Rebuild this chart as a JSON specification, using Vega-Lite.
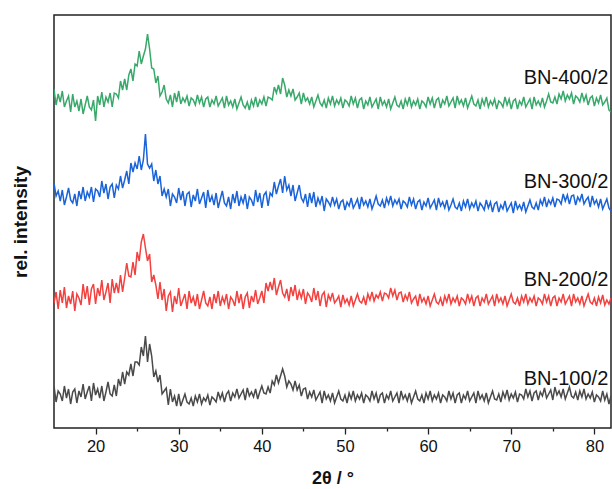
{
"$schema": "https://vega.github.io/schema/vega-lite/v6.json",
"width": 557, "height": 413,
"autosize": "none",
"padding": {"left": 54, "top": 15, "right": 1, "bottom": 61},
"background": "white",
"config": {"view": {"stroke": "#222", "strokeWidth": 1.5}, "font": "Liberation Sans"},
"layer": [
{"data": {"values": [
{"x":15,"g":335,"b":241,"r":121,"k":38},
{"x":15.25,"g":319,"b":228,"r":132,"k":22},
{"x":15.5,"g":330,"b":233,"r":115,"k":33},
{"x":15.75,"g":322,"b":223,"r":134,"k":30},
{"x":16,"g":333,"b":234,"r":121,"k":23},
{"x":16.25,"g":317,"b":219,"r":137,"k":38},
{"x":16.5,"g":323,"b":227,"r":116,"k":26},
{"x":16.75,"g":328,"b":236,"r":128,"k":35},
{"x":17,"g":312,"b":224,"r":120,"k":20},
{"x":17.25,"g":330,"b":221,"r":133,"k":32},
{"x":17.5,"g":317,"b":230,"r":113,"k":35},
{"x":17.75,"g":323,"b":218,"r":130,"k":21},
{"x":18,"g":313,"b":233,"r":126,"k":33},
{"x":18.25,"g":325,"b":225,"r":119,"k":27},
{"x":18.5,"g":310,"b":237,"r":140,"k":40},
{"x":18.75,"g":319,"b":223,"r":125,"k":25},
{"x":19,"g":328,"b":232,"r":138,"k":32},
{"x":19.25,"g":317,"b":227,"r":119,"k":38},
{"x":19.5,"g":314,"b":237,"r":135,"k":23},
{"x":19.75,"g":324,"b":222,"r":140,"k":41},
{"x":20,"g":303,"b":235,"r":120,"k":29},
{"x":20.25,"g":328,"b":233,"r":136,"k":35},
{"x":20.5,"g":319,"b":227,"r":128,"k":26},
{"x":20.75,"g":332,"b":243,"r":144,"k":38},
{"x":21,"g":317,"b":231,"r":124,"k":23},
{"x":21.25,"g":327,"b":240,"r":132,"k":32},
{"x":21.5,"g":322,"b":225,"r":141,"k":42},
{"x":21.75,"g":331,"b":237,"r":121,"k":30},
{"x":22,"g":317,"b":240,"r":145,"k":28},
{"x":22.25,"g":331,"b":226,"r":131,"k":39},
{"x":22.5,"g":330,"b":239,"r":141,"k":28},
{"x":22.75,"g":326,"b":235,"r":131,"k":45},
{"x":23,"g":343,"b":248,"r":149,"k":38},
{"x":23.25,"g":334,"b":236,"r":132,"k":52},
{"x":23.5,"g":345,"b":244,"r":146,"k":40},
{"x":23.75,"g":334,"b":253,"r":161,"k":52},
{"x":24,"g":349,"b":240,"r":148,"k":49},
{"x":24.25,"g":355,"b":261,"r":147,"k":60},
{"x":24.5,"g":343,"b":252,"r":162,"k":48},
{"x":24.75,"g":360,"b":261,"r":149,"k":62},
{"x":25,"g":358,"b":255,"r":172,"k":62},
{"x":25.25,"g":373,"b":268,"r":163,"k":59},
{"x":25.5,"g":360,"b":254,"r":182,"k":77},
{"x":25.75,"g":368,"b":264,"r":190,"k":68},
{"x":26,"g":375,"b":290,"r":176,"k":88},
{"x":26.25,"g":390,"b":260,"r":163,"k":62},
{"x":26.5,"g":375,"b":256,"r":170,"k":80},
{"x":26.75,"g":356,"b":260,"r":142,"k":68},
{"x":27,"g":355,"b":243,"r":149,"k":47},
{"x":27.25,"g":341,"b":254,"r":139,"k":53},
{"x":27.5,"g":348,"b":240,"r":125,"k":42},
{"x":27.75,"g":328,"b":248,"r":142,"k":49},
{"x":28,"g":332,"b":228,"r":124,"k":30},
{"x":28.25,"g":339,"b":235,"r":135,"k":33},
{"x":28.5,"g":325,"b":227,"r":113,"k":36},
{"x":28.75,"g":321,"b":235,"r":128,"k":19},
{"x":29,"g":329,"b":218,"r":132,"k":35},
{"x":29.25,"g":317,"b":230,"r":112,"k":22},
{"x":29.5,"g":331,"b":227,"r":128,"k":28},
{"x":29.75,"g":322,"b":221,"r":120,"k":18},
{"x":30,"g":333,"b":236,"r":136,"k":30},
{"x":30.25,"g":320,"b":224,"r":118,"k":18},
{"x":30.5,"g":326,"b":233,"r":124,"k":24},
{"x":30.75,"g":322,"b":218,"r":130,"k":30},
{"x":31,"g":328,"b":230,"r":115,"k":22},
{"x":31.25,"g":318,"b":232,"r":133,"k":20},
{"x":31.5,"g":326,"b":217,"r":121,"k":26},
{"x":31.75,"g":324,"b":229,"r":127,"k":18},
{"x":32,"g":319,"b":223,"r":118,"k":28},
{"x":32.25,"g":329,"b":235,"r":130,"k":22},
{"x":32.5,"g":321,"b":220,"r":115,"k":30},
{"x":32.75,"g":327,"b":226,"r":124,"k":20},
{"x":33,"g":317,"b":232,"r":133,"k":26},
{"x":33.25,"g":325,"b":216,"r":121,"k":23},
{"x":33.5,"g":327,"b":234,"r":118,"k":29},
{"x":33.75,"g":317,"b":222,"r":127,"k":19},
{"x":34,"g":324,"b":228,"r":115,"k":27},
{"x":34.25,"g":320,"b":219,"r":130,"k":25},
{"x":34.5,"g":328,"b":231,"r":121,"k":22},
{"x":34.75,"g":318,"b":216,"r":133,"k":32},
{"x":35,"g":322,"b":225,"r":118,"k":25},
{"x":35.25,"g":326,"b":233,"r":127,"k":31},
{"x":35.5,"g":316,"b":221,"r":121,"k":22},
{"x":35.75,"g":328,"b":218,"r":130,"k":30},
{"x":36,"g":319,"b":227,"r":115,"k":33},
{"x":36.25,"g":323,"b":215,"r":127,"k":23},
{"x":36.5,"g":317,"b":230,"r":124,"k":31},
{"x":36.75,"g":325,"b":221,"r":118,"k":27},
{"x":37,"g":315,"b":233,"r":133,"k":35},
{"x":37.25,"g":321,"b":218,"r":121,"k":26},
{"x":37.5,"g":327,"b":227,"r":130,"k":30},
{"x":37.75,"g":319,"b":221,"r":115,"k":34},
{"x":38,"g":316,"b":230,"r":127,"k":24},
{"x":38.25,"g":322,"b":215,"r":131,"k":36},
{"x":38.5,"g":314,"b":227,"r":116,"k":28},
{"x":38.75,"g":324,"b":224,"r":128,"k":32},
{"x":39,"g":318,"b":218,"r":122,"k":27},
{"x":39.25,"g":327,"b":234,"r":134,"k":35},
{"x":39.5,"g":317,"b":222,"r":120,"k":25},
{"x":39.75,"g":324,"b":231,"r":126,"k":32},
{"x":40,"g":320,"b":216,"r":133,"k":38},
{"x":40.25,"g":327,"b":229,"r":121,"k":31},
{"x":40.5,"g":318,"b":232,"r":141,"k":30},
{"x":40.75,"g":327,"b":218,"r":133,"k":37},
{"x":41,"g":326,"b":231,"r":142,"k":31},
{"x":41.25,"g":324,"b":228,"r":134,"k":43},
{"x":41.5,"g":337,"b":242,"r":146,"k":39},
{"x":41.75,"g":331,"b":230,"r":129,"k":49},
{"x":42,"g":339,"b":238,"r":137,"k":41},
{"x":42.25,"g":330,"b":245,"r":144,"k":48},
{"x":42.5,"g":346,"b":231,"r":131,"k":55},
{"x":42.75,"g":339,"b":248,"r":127,"k":48},
{"x":43,"g":327,"b":234,"r":135,"k":37},
{"x":43.25,"g":334,"b":239,"r":123,"k":43},
{"x":43.5,"g":328,"b":228,"r":137,"k":40},
{"x":43.75,"g":335,"b":239,"r":128,"k":34},
{"x":44,"g":324,"b":223,"r":139,"k":43},
{"x":44.25,"g":327,"b":231,"r":124,"k":34},
{"x":44.5,"g":331,"b":239,"r":133,"k":39},
{"x":44.75,"g":320,"b":226,"r":126,"k":28},
{"x":45,"g":331,"b":222,"r":135,"k":35},
{"x":45.25,"g":323,"b":230,"r":120,"k":36},
{"x":45.5,"g":326,"b":217,"r":131,"k":25},
{"x":45.75,"g":320,"b":231,"r":128,"k":32},
{"x":46,"g":327,"b":221,"r":122,"k":27},
{"x":46.25,"g":317,"b":232,"r":136,"k":34},
{"x":46.5,"g":323,"b":217,"r":124,"k":24},
{"x":46.75,"g":329,"b":226,"r":133,"k":28},
{"x":47,"g":321,"b":220,"r":118,"k":32},
{"x":47.25,"g":318,"b":228,"r":129,"k":21},
{"x":47.5,"g":324,"b":213,"r":132,"k":33},
{"x":47.75,"g":316,"b":225,"r":117,"k":25},
{"x":48,"g":326,"b":222,"r":129,"k":29},
{"x":48.25,"g":320,"b":218,"r":124,"k":23},
{"x":48.5,"g":328,"b":227,"r":131,"k":31},
{"x":48.75,"g":318,"b":219,"r":121,"k":21},
{"x":49,"g":324,"b":225,"r":124,"k":27},
{"x":49.25,"g":320,"b":215,"r":128,"k":33},
{"x":49.5,"g":326,"b":222,"r":117,"k":25},
{"x":49.75,"g":316,"b":224,"r":129,"k":23},
{"x":50,"g":324,"b":214,"r":121,"k":29},
{"x":50.25,"g":322,"b":222,"r":125,"k":21},
{"x":50.5,"g":318,"b":218,"r":119,"k":31},
{"x":50.75,"g":328,"b":226,"r":128,"k":25},
{"x":51,"g":320,"b":216,"r":118,"k":33},
{"x":51.25,"g":326,"b":220,"r":124,"k":23},
{"x":51.5,"g":316,"b":225,"r":130,"k":29},
{"x":51.75,"g":324,"b":215,"r":123,"k":25},
{"x":52,"g":326,"b":227,"r":121,"k":31},
{"x":52.25,"g":315,"b":219,"r":127,"k":21},
{"x":52.5,"g":323,"b":223,"r":119,"k":29},
{"x":52.75,"g":319,"b":217,"r":130,"k":27},
{"x":53,"g":327,"b":225,"r":124,"k":23},
{"x":53.25,"g":317,"b":215,"r":132,"k":33},
{"x":53.5,"g":321,"b":221,"r":123,"k":25},
{"x":53.75,"g":325,"b":228,"r":129,"k":31},
{"x":54,"g":315,"b":220,"r":126,"k":21},
{"x":54.25,"g":327,"b":218,"r":132,"k":29},
{"x":54.5,"g":319,"b":224,"r":123,"k":31},
{"x":54.75,"g":323,"b":216,"r":131,"k":21},
{"x":55,"g":317,"b":226,"r":130,"k":29},
{"x":55.25,"g":325,"b":220,"r":126,"k":25},
{"x":55.5,"g":315,"b":228,"r":136,"k":33},
{"x":55.75,"g":321,"b":218,"r":128,"k":23},
{"x":56,"g":327,"b":224,"r":134,"k":27},
{"x":56.25,"g":319,"b":220,"r":124,"k":31},
{"x":56.5,"g":317,"b":225,"r":131,"k":21},
{"x":56.75,"g":323,"b":215,"r":132,"k":33},
{"x":57,"g":315,"b":223,"r":122,"k":25},
{"x":57.25,"g":325,"b":221,"r":129,"k":29},
{"x":57.5,"g":319,"b":217,"r":124,"k":23},
{"x":57.75,"g":327,"b":227,"r":132,"k":31},
{"x":58,"g":317,"b":219,"r":121,"k":21},
{"x":58.25,"g":323,"b":225,"r":125,"k":27},
{"x":58.5,"g":319,"b":215,"r":128,"k":33},
{"x":58.75,"g":325,"b":222,"r":118,"k":25},
{"x":59,"g":315,"b":224,"r":130,"k":23},
{"x":59.25,"g":323,"b":214,"r":122,"k":29},
{"x":59.5,"g":321,"b":222,"r":126,"k":21},
{"x":59.75,"g":317,"b":218,"r":120,"k":31},
{"x":60,"g":327,"b":226,"r":128,"k":25},
{"x":60.25,"g":320,"b":216,"r":118,"k":33},
{"x":60.5,"g":326,"b":220,"r":124,"k":23},
{"x":60.75,"g":316,"b":224,"r":130,"k":29},
{"x":61,"g":324,"b":214,"r":122,"k":25},
{"x":61.25,"g":326,"b":226,"r":120,"k":31},
{"x":61.5,"g":316,"b":218,"r":126,"k":21},
{"x":61.75,"g":324,"b":222,"r":118,"k":29},
{"x":62,"g":320,"b":216,"r":128,"k":27},
{"x":62.25,"g":328,"b":224,"r":122,"k":23},
{"x":62.5,"g":318,"b":214,"r":130,"k":33},
{"x":62.75,"g":322,"b":219,"r":120,"k":25},
{"x":63,"g":326,"b":225,"r":126,"k":31},
{"x":63.25,"g":316,"b":217,"r":122,"k":21},
{"x":63.5,"g":328,"b":215,"r":128,"k":29},
{"x":63.75,"g":320,"b":221,"r":118,"k":31},
{"x":64,"g":324,"b":213,"r":126,"k":21},
{"x":64.25,"g":318,"b":223,"r":124,"k":29},
{"x":64.5,"g":326,"b":217,"r":120,"k":25},
{"x":64.75,"g":316,"b":225,"r":130,"k":33},
{"x":65,"g":322,"b":215,"r":122,"k":23},
{"x":65.25,"g":328,"b":221,"r":128,"k":27},
{"x":65.5,"g":320,"b":217,"r":118,"k":31},
{"x":65.75,"g":318,"b":223,"r":126,"k":21},
{"x":66,"g":324,"b":213,"r":128,"k":33},
{"x":66.25,"g":315,"b":221,"r":118,"k":25},
{"x":66.5,"g":325,"b":218,"r":126,"k":29},
{"x":66.75,"g":319,"b":214,"r":122,"k":23},
{"x":67,"g":327,"b":224,"r":130,"k":31},
{"x":67.25,"g":317,"b":216,"r":120,"k":21},
{"x":67.5,"g":323,"b":222,"r":124,"k":27},
{"x":67.75,"g":319,"b":212,"r":128,"k":33},
{"x":68,"g":325,"b":220,"r":118,"k":25},
{"x":68.25,"g":315,"b":222,"r":130,"k":24},
{"x":68.5,"g":323,"b":212,"r":122,"k":30},
{"x":68.75,"g":321,"b":219,"r":126,"k":22},
{"x":69,"g":317,"b":215,"r":120,"k":32},
{"x":69.25,"g":327,"b":223,"r":128,"k":26},
{"x":69.5,"g":319,"b":213,"r":118,"k":34},
{"x":69.75,"g":325,"b":217,"r":124,"k":24},
{"x":70,"g":315,"b":221,"r":130,"k":30},
{"x":70.25,"g":323,"b":211,"r":122,"k":26},
{"x":70.5,"g":325,"b":223,"r":120,"k":32},
{"x":70.75,"g":315,"b":215,"r":126,"k":22},
{"x":71,"g":323,"b":219,"r":118,"k":30},
{"x":71.25,"g":319,"b":214,"r":128,"k":29},
{"x":71.5,"g":327,"b":222,"r":122,"k":25},
{"x":71.75,"g":317,"b":212,"r":130,"k":35},
{"x":72,"g":321,"b":218,"r":120,"k":27},
{"x":72.25,"g":325,"b":224,"r":126,"k":33},
{"x":72.5,"g":315,"b":217,"r":122,"k":23},
{"x":72.75,"g":327,"b":215,"r":128,"k":31},
{"x":73,"g":319,"b":221,"r":118,"k":33},
{"x":73.25,"g":323,"b":214,"r":126,"k":24},
{"x":73.5,"g":318,"b":224,"r":124,"k":32},
{"x":73.75,"g":326,"b":219,"r":120,"k":28},
{"x":74,"g":317,"b":227,"r":130,"k":36},
{"x":74.25,"g":323,"b":217,"r":122,"k":26},
{"x":74.5,"g":330,"b":224,"r":128,"k":30},
{"x":74.75,"g":322,"b":220,"r":118,"k":34},
{"x":75,"g":321,"b":226,"r":126,"k":24},
{"x":75.25,"g":327,"b":217,"r":128,"k":37},
{"x":75.5,"g":320,"b":225,"r":118,"k":29},
{"x":75.75,"g":330,"b":224,"r":126,"k":33},
{"x":76,"g":325,"b":220,"r":122,"k":27},
{"x":76.25,"g":333,"b":230,"r":130,"k":35},
{"x":76.5,"g":323,"b":223,"r":120,"k":25},
{"x":76.75,"g":329,"b":229,"r":124,"k":31},
{"x":77,"g":325,"b":220,"r":128,"k":37},
{"x":77.25,"g":331,"b":228,"r":118,"k":28},
{"x":77.5,"g":320,"b":229,"r":130,"k":26},
{"x":77.75,"g":328,"b":219,"r":122,"k":32},
{"x":78,"g":326,"b":227,"r":126,"k":24},
{"x":78.25,"g":322,"b":223,"r":120,"k":33},
{"x":78.5,"g":331,"b":230,"r":128,"k":27},
{"x":78.75,"g":323,"b":220,"r":118,"k":35},
{"x":79,"g":329,"b":224,"r":124,"k":25},
{"x":79.25,"g":319,"b":227,"r":130,"k":30},
{"x":79.5,"g":326,"b":217,"r":122,"k":26},
{"x":79.75,"g":328,"b":228,"r":120,"k":32},
{"x":80,"g":318,"b":220,"r":126,"k":22},
{"x":80.25,"g":326,"b":224,"r":118,"k":29},
{"x":80.5,"g":321,"b":217,"r":127,"k":27},
{"x":80.75,"g":329,"b":225,"r":121,"k":23},
{"x":81,"g":319,"b":215,"r":129,"k":33},
{"x":81.25,"g":322,"b":220,"r":119,"k":24},
{"x":81.5,"g":326,"b":225,"r":124,"k":30},
{"x":81.75,"g":314,"b":216,"r":120,"k":20},
{"x":82,"g":312,"b":213,"r":126,"k":28}
]},
"transform": [{"fold": ["k","r","b","g"], "as": ["s","v"]}],
"mark": {"type": "line", "strokeWidth": 1.5, "clip": true},
"encoding": {
"x": {"field": "x", "type": "quantitative", "scale": {"domain": [15, 82], "nice": false, "zero": false},
"axis": {"values": [20,25,30,35,40,45,50,55,60,65,70,75,80], "labelExpr": "datum.value % 10 === 0 ? datum.label : ''", "domain": false, "grid": false, "tickColor": "#222", "tickWidth": 1.3, "tickSize": {"condition": {"test": "datum.value % 10 === 0", "value": 6}, "value": 3}, "labelFontSize": 16.5, "labelColor": "#111", "labelPadding": 4, "labelFont": "Liberation Sans", "title": "2θ / °", "titleFont": "Liberation Sans", "titleFontSize": 18, "titleFontWeight": "bold", "titleColor": "#111", "titlePadding": 15}},
"y": {"field": "v", "type": "quantitative", "scale": {"domain": [-4, 409], "nice": false, "zero": false},
"axis": {"ticks": false, "labels": false, "domain": false, "grid": false, "title": "rel. intensity", "titleFont": "Liberation Sans", "titleFontSize": 19, "titleFontWeight": "bold", "titleColor": "#111", "titlePadding": 24}},
"color": {"field": "s", "type": "nominal", "scale": {"domain": ["k","r","b","g"], "range": ["#4a4a4a","#f2413f","#1a63d9","#38a96a"]}, "legend": null}
}},
{"data": {"values": [
{"t": "BN-400/2", "x": 81.67, "y": 346},
{"t": "BN-300/2", "x": 81.67, "y": 242},
{"t": "BN-200/2", "x": 81.67, "y": 144},
{"t": "BN-100/2", "x": 81.67, "y": 45}
]},
"mark": {"type": "text", "align": "right", "baseline": "middle", "fontSize": 20, "font": "Liberation Sans", "color": "#111"},
"encoding": {"x": {"field": "x", "type": "quantitative"}, "y": {"field": "y", "type": "quantitative"}, "text": {"field": "t"}}}
]
}
